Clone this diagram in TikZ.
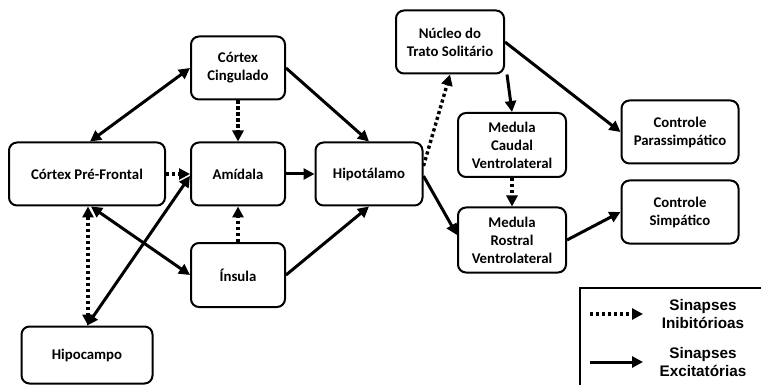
\documentclass[tikz,border=0pt]{standalone}
\usepackage{fontspec}
\setmainfont{Carlito}
\newfontfamily\legendfont{Liberation Sans}
\usetikzlibrary{arrows.meta}
\begin{document}
\begin{tikzpicture}[x=1pt,y=-1pt,
	box/.style={draw,rounded corners=8pt,line width=2pt,align=center,
	font=\fontsize{14.8}{18}\selectfont\bfseries,inner sep=2pt},
	exc/.style={line width=3pt,-{Triangle[length=11pt,width=11pt]}},
	exc2/.style={line width=3pt,{Triangle[length=11pt,width=11pt]}-{Triangle[length=11pt,width=11pt]}},
	inib/.style={line width=3.4pt,dash pattern=on 3.2pt off 2.8pt,-{Triangle[length=11pt,width=11pt]}},
	inib2/.style={line width=3.4pt,dash pattern=on 3.2pt off 2.8pt,{Triangle[length=11pt,width=11pt]}-{Triangle[length=11pt,width=11pt]}},
	legtext/.style={align=center,font=\fontsize{15.3}{18}\selectfont\legendfont\bfseries}]
\useasboundingbox (0,0) rectangle (761,385);
% nodes
\node[box,minimum width=94pt,minimum height=63pt] (cc) at (238,68) {Córtex\\Cingulado};
\node[box,minimum width=156pt,minimum height=63pt] (pf) at (87,174) {Córtex Pré-Frontal};
\node[box,minimum width=94pt,minimum height=63pt] (am) at (238,174) {Amídala};
\node[box,minimum width=107pt,minimum height=63pt] (ht) at (369,174) {Hipotálamo};
\node[box,minimum width=94pt,minimum height=64pt] (ins) at (238,275) {Ínsula};
\node[box,minimum width=131pt,minimum height=57pt] (hc) at (87,355) {Hipocampo};
\node[box,minimum width=108pt,minimum height=63pt] (nts) at (450,42) {Núcleo do\\Trato Solitário};
\node[box,minimum width=108pt,minimum height=64pt] (mcv) at (512,145) {Medula\\Caudal\\Ventrolateral};
\node[box,minimum width=108pt,minimum height=65pt] (mrv) at (512,240) {Medula\\Rostral\\Ventrolateral};
\node[box,minimum width=117pt,minimum height=63pt] (cp) at (680,132) {Controle\\Parassimpático};
\node[box,minimum width=117pt,minimum height=63pt] (cs) at (680,212) {Controle\\Simpático};
% connectors
\draw[exc2] (cc.west) -- ([xshift=3pt]pf.north);
\draw[inib] (cc.south) -- (am.north);
\draw[exc] (cc.east) -- (ht.north);
\draw[inib] (pf.east) -- (am.west);
\draw[exc] (am.east) -- (ht.west);
\draw[exc2] (hc.north) -- ([yshift=-2pt]am.west);
\draw[exc2] ([xshift=4pt]pf.south) -- (ins.west);
\draw[inib2] ([xshift=1pt]pf.south) -- ([xshift=1pt]hc.north);
\draw[inib] (ins.north) -- (am.south);
\draw[exc] (ins.east) -- (ht.south);
\draw[inib] ([yshift=8pt]ht.east) -- (nts.south);
\draw[exc] ([yshift=-2pt]ht.east) -- ([yshift=5pt]mrv.west);
\draw[exc] ([xshift=2pt]nts.south east) -- (mcv.north);
\draw[exc] (nts.east) -- (cp.west);
\draw[inib] (mcv.south) -- (mrv.north);
\draw[exc] (mrv.east) -- (cs.west);
% legenda
\draw[line width=1.8pt] (580,288) rectangle (763,390);
\coordinate (li1) at (590,314);
\coordinate (li2) at (643,314);
\coordinate (le1) at (590,362);
\coordinate (le2) at (643,362);
\draw[inib] (li1) -- (li2);
\draw[exc] (le1) -- (le2);
\node[legtext] (lti) at (703,314) {Sinapses\\Inibitórioas};
\node[legtext] (lte) at (703,362) {Sinapses\\Excitatórias};
\end{tikzpicture}
\end{document}
